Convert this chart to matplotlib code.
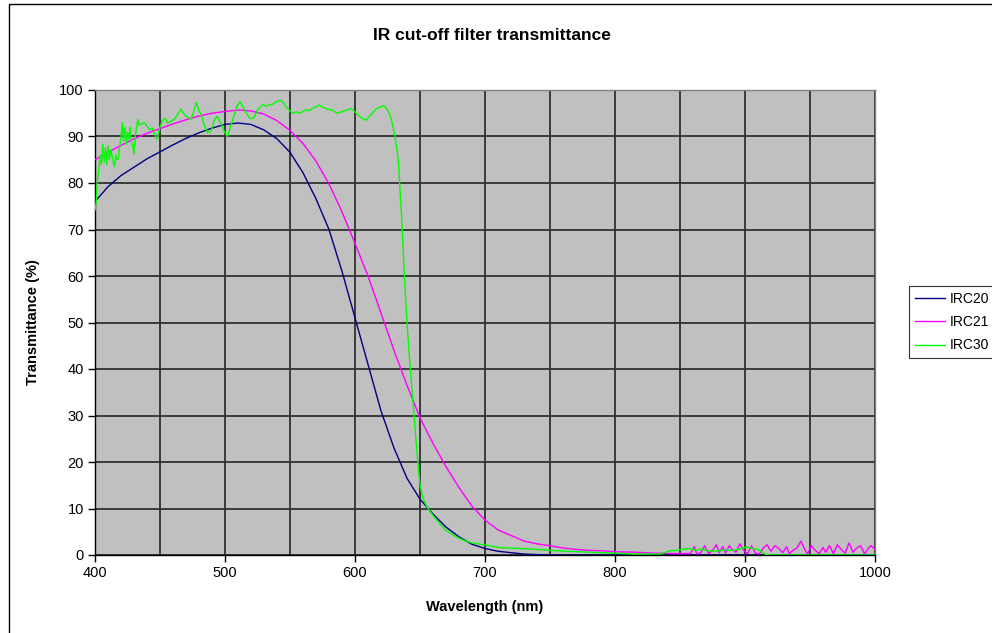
import matplotlib
matplotlib.use("Agg")
import matplotlib.pyplot as plt
from matplotlib.patches import Rectangle

plt.rcParams['font.family'] = ['Liberation Sans', 'DejaVu Sans']

# ---- data ----
irc20_wl = [400, 410, 420, 430, 440, 450, 460, 470, 480, 490, 500, 510, 520, 530, 540,
            550, 560, 570, 580, 590, 600, 610, 620, 630, 640, 650, 660, 670, 680, 690,
            700, 710, 720, 730, 750, 800, 900, 1000]
irc20_t = [76.0, 79.2, 81.6, 83.4, 85.2, 86.7, 88.2, 89.6, 90.8, 91.8, 92.6, 92.9, 92.6,
           91.4, 89.5, 86.6, 82.2, 76.6, 70.0, 61.0, 51.0, 41.0, 31.0, 23.0, 16.5, 12.0,
           8.8, 6.0, 3.9, 2.3, 1.4, 0.8, 0.5, 0.2, 0.0, 0.0, 0.0, 0.0]

irc21_wl = [400, 410, 420, 430, 440, 450, 460, 470, 480, 490, 500, 510, 520, 530, 540,
            550, 560, 570, 580, 590, 600, 610, 620, 630, 640, 650, 660, 670, 680, 690,
            700, 710, 720, 730, 740, 750, 760, 770, 780, 790, 800, 815, 830, 845, 855,
            858, 861, 863, 866, 869, 872, 875, 878, 880, 883, 885, 888, 890, 893, 896,
            899, 902, 905, 908, 911, 914, 917, 920, 923, 926, 929, 932, 934, 937, 940,
            943, 946, 948, 951, 954, 957, 960, 962, 965, 968, 971, 974, 977, 980, 983,
            986, 989, 992, 995, 997, 1000]
irc21_t = [85.0, 86.6, 88.1, 89.5, 90.7, 91.7, 92.7, 93.6, 94.4, 95.0, 95.4, 95.7, 95.5,
           94.8, 93.4, 91.3, 88.5, 84.7, 79.8, 73.8, 67.0, 60.0, 52.0, 44.0, 36.5, 29.5,
           24.0, 19.0, 14.5, 10.5, 7.5, 5.4, 4.2, 3.0, 2.4, 2.0, 1.5, 1.2, 1.0, 0.9, 0.7,
           0.6, 0.4, 0.3, 0.3,
           0.3, 1.8, 0.2, 0.5, 2.0, 0.3, 1.0, 2.2, 0.5, 1.8, 0.4, 2.0, 1.2, 0.6, 2.4,
           1.0, 0.3, 2.0, 0.4, 0.2, 1.5, 2.2, 0.8, 2.0, 1.4, 0.5, 1.8, 0.3, 1.0, 1.5,
           3.0, 1.2, 0.2, 2.0, 1.0, 0.3, 1.6, 0.6, 2.0, 0.3, 2.2, 1.2, 0.4, 2.6, 0.6,
           1.5, 2.0, 0.2, 1.5, 2.0, 1.2]

irc30_wl = [400, 401, 401.5, 403, 404, 405, 406, 407, 408, 409, 410, 411, 412, 413, 414,
            415, 416, 417, 418, 419, 420, 421, 422, 423, 424, 425, 426, 427, 428, 429,
            430, 431, 432, 433, 434, 436, 438, 440, 442, 444, 446, 447.6, 449, 450, 452,
            454, 456, 458, 461, 463, 466, 468, 470, 472, 474, 476, 478, 480, 481.5, 484,
            486.6, 489, 492, 494, 497, 500, 502, 505, 507, 509, 511.5, 513, 515, 517, 519,
            522, 525, 529, 532, 534, 537, 539.5, 543, 545, 547, 550, 552, 555, 557, 560,
            562, 565, 567, 570, 572.7, 575, 577.7, 580, 582.6, 586, 589.7, 593.6, 597.4,
            601, 605, 608.5, 611.5, 615.4, 618, 620.5, 622, 624.4, 627, 628.7, 630.8,
            633.3, 636, 638, 640, 642, 644, 646, 648, 650, 652, 655, 660, 665, 670, 678,
            685, 690, 700, 711, 727, 740, 750, 765, 788, 800, 814, 835, 842, 848, 853,
            858, 862, 866, 870, 875, 880, 885, 890, 895, 898, 902, 906, 910, 913, 916,
            920, 1000]
irc30_t = [74.2, 76.0, 79.6, 83.0, 86.0, 84.0, 88.3, 84.5, 87.5, 84.0, 88.0, 85.0, 87.0,
           86.0, 84.5, 83.5, 86.0, 85.0, 85.3, 88.0, 90.0, 93.0, 89.0, 92.0, 88.3, 91.0,
           89.5, 92.0, 89.0, 88.0, 86.3, 90.0, 92.0, 93.7, 92.5, 92.7, 93.0, 92.2, 91.5,
           91.8, 90.5, 89.3, 91.0, 92.0, 93.5, 94.0, 92.8, 93.2, 93.7, 94.5, 95.9, 95.0,
           94.4, 94.0, 93.7, 95.5, 97.3, 95.5, 94.8, 92.5, 90.8, 91.0, 93.7, 94.3, 92.8,
           90.7, 90.0, 92.8, 94.5, 96.4, 97.5, 96.8, 95.7, 94.8, 93.9, 93.9, 95.7, 96.8,
           96.5, 96.8, 97.0, 97.5, 97.8, 97.2, 96.4, 95.5, 95.0, 95.3, 95.0, 95.4, 95.7,
           95.6, 96.0, 96.4, 96.8, 96.3, 96.0, 95.8, 95.7, 95.0, 95.3, 95.7, 96.0, 95.0,
           94.0, 93.5, 94.4, 95.7, 96.2, 96.4, 96.6, 96.0, 94.6, 92.8, 90.0, 85.0, 72.0,
           60.0, 50.0, 42.0, 35.0, 28.0, 21.0, 15.0, 12.5, 10.5, 8.5, 6.8, 5.3, 3.9, 3.0,
           2.6, 2.15, 1.6, 1.4, 1.2, 1.0, 0.8, 0.5, 0.4, 0.2, 0.2, 0.9, 1.0, 1.3, 1.4,
           1.0, 1.3, 1.0, 0.8, 0.9, 1.1, 1.0, 1.2, 1.5, 1.7, 1.4, 1.2, 0.6, 0.1, 0.0, 0.0]

series = [("IRC20", irc20_wl, irc20_t, "#000080"),
          ("IRC21", irc21_wl, irc21_t, "#FF00FF"),
          ("IRC30", irc30_wl, irc30_t, "#00FF00")]

x_ticks = [400, 500, 600, 700, 800, 900, 1000]
y_ticks = [0, 10, 20, 30, 40, 50, 60, 70, 80, 90, 100]

W, H = 992, 633
fig = plt.figure(figsize=(W / 100, H / 100), dpi=100)
fig.patch.set_facecolor("white")

# outer chart border
fig.patches.append(Rectangle((9 / W, -0.01), 1.2, 1 - 4 / H + 0.01,
                             transform=fig.transFigure, fill=False,
                             edgecolor="black", linewidth=1.0))

ax = fig.add_axes([95 / W, 1 - 555 / H, 780 / W, 465 / H])
ax.set_facecolor("#C0C0C0")

for name, wl, t, col in series:
    ax.plot(wl, t, color=col, linewidth=1.0, label=name, zorder=3)

ax.set_xlim(400, 1000)
ax.set_ylim(0, 100)
ax.set_xticks(x_ticks)
ax.set_xticks(list(range(400, 1001, 50)), minor=True)
ax.set_yticks(y_ticks)
ax.tick_params(axis="x", which="minor", length=0)
ax.grid(True, which="both", color="#303030", linewidth=1.3, zorder=1)
ax.set_axisbelow(True)

ax.tick_params(axis="both", which="major", direction="out", length=5, width=1,
               labelsize=10.5, colors="black", pad=3)
for s in ["top", "right"]:
    ax.spines[s].set_color("#808080")
    ax.spines[s].set_linewidth(1.0)
for s in ["left", "bottom"]:
    ax.spines[s].set_color("black")
    ax.spines[s].set_linewidth(1.0)

fig.text(492 / W, 1 - 35 / H, "IR cut-off filter transmittance", ha="center",
         va="center", fontsize=12.5, fontweight="bold")
fig.text(485 / W, 1 - 607 / H, "Wavelength (nm)", ha="center", va="center",
         fontsize=10.5, fontweight="bold")
fig.text(33 / W, 1 - 322 / H, "Transmittance (%)", ha="center", va="center",
         rotation=90, fontsize=10.5, fontweight="bold")

leg = fig.legend(loc="upper left", bbox_to_anchor=(909 / W, 1 - 286 / H),
                 frameon=True, fancybox=False, fontsize=10, handlelength=2.2,
                 handletextpad=0.3, borderpad=0.4, labelspacing=0.68,
                 borderaxespad=0)
leg.get_frame().set_edgecolor("black")
leg.get_frame().set_linewidth(0.8)

fig.savefig("out.png", dpi=100)
